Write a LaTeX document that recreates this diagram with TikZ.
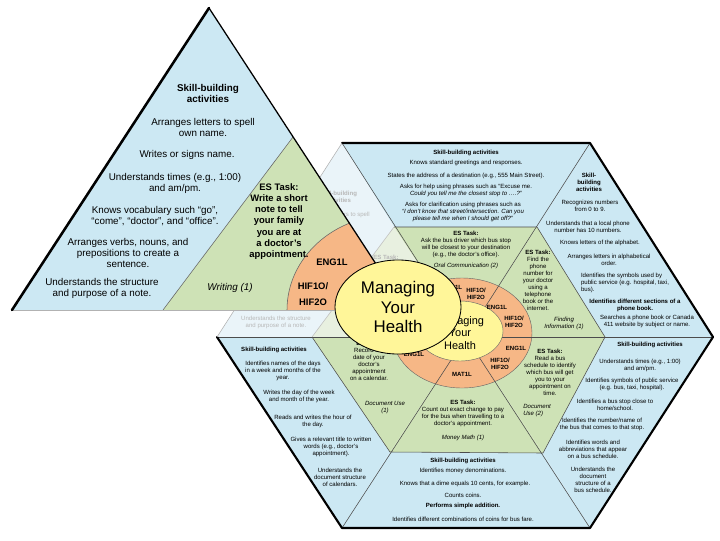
\documentclass[tikz,border=0pt]{standalone}
\usepackage{fontspec}
\setmainfont{Liberation Sans}
\usetikzlibrary{shapes.geometric}

\definecolor{skillblue}{RGB}{204,232,243}
\definecolor{taskgreen}{RGB}{206,226,182}
\definecolor{ringorange}{RGB}{246,183,134}
\definecolor{coreyellow}{RGB}{255,246,153}
\definecolor{fadeblue}{RGB}{234,244,249}
\definecolor{fadegreen}{RGB}{232,240,224}

\tikzset{
  skilltext/.style={font=\fontsize{4.3}{5.0}\selectfont, align=center, inner sep=0pt},
  skillhead/.style={skilltext, font=\fontsize{4.3}{5.0}\selectfont\bfseries},
  areatext/.style={skilltext, font=\fontsize{4.3}{5.0}\selectfont\itshape},
  fadetext/.style={skilltext, text=black!28},
  ringtext/.style={font=\fontsize{4.3}{5.0}\selectfont\bfseries, align=center, inner sep=0pt},
  bigtext/.style={font=\fontsize{7}{7.8}\selectfont, align=center, inner sep=0pt},
  bigtask/.style={font=\fontsize{6.7}{7.9}\selectfont\bfseries, align=center, inner sep=0pt},
  sectorline/.style={draw=black!70, line width=0.4pt},
  outeredge/.style={line width=1.5pt, line join=round, line cap=round},
}

\begin{document}
\begin{tikzpicture}[x=0.025cm, y=-0.025cm]
    \useasboundingbox (0,0) rectangle (720,540);

    % Points of the hexagon
    \coordinate (C) at (466,337);
    \coordinate (V0) at (713,337);
    \coordinate (V1) at (590,143);
    \coordinate (V2) at (342,143);
    \coordinate (V3) at (217,337);
    \coordinate (V4) at (342,528);
    \coordinate (V5) at (590,528);
    \coordinate (W0) at (605,337);
    \coordinate (W1) at (537,227);
    \coordinate (W2) at (394,227);
    \coordinate (W3) at (312,337);
    \coordinate (W4) at (390,452);
    \coordinate (W5) at (543,453);

    % Skill-building trapezoids
    \fill[skillblue] (V2) -- (V1) -- (W1) -- (W2) -- cycle;
    \fill[skillblue] (V1) -- (V0) -- (W0) -- (W1) -- cycle;
    \fill[skillblue] (V0) -- (V5) -- (W5) -- (W0) -- cycle;
    \fill[skillblue] (V5) -- (V4) -- (W4) -- (W5) -- cycle;
    \fill[skillblue] (V4) -- (V3) -- (W3) -- (W4) -- cycle;
    \fill[fadeblue] (V3) -- (V2) -- (W2) -- (W3) -- cycle;

    % ES task triangles
    \fill[taskgreen] (C) -- (W2) -- (W1) -- cycle;
    \fill[taskgreen] (C) -- (W1) -- (W0) -- cycle;
    \fill[taskgreen] (C) -- (W0) -- (W5) -- cycle;
    \fill[taskgreen] (C) -- (W5) -- (W4) -- cycle;
    \fill[taskgreen] (C) -- (W4) -- (W3) -- cycle;
    \fill[fadegreen] (C) -- (W3) -- (W2) -- cycle;

    % Course ring
    \filldraw[fill=ringorange, draw=black!60, line width=0.3pt] (462,333) ellipse [x radius=70, y radius=55];

    % Sector lines
    \draw[sectorline] (C) -- (V0);
    \draw[sectorline] (C) -- (V1);
    \draw[sectorline] (C) -- (V2);
    \draw[sectorline] (C) -- (V3);
    \draw[sectorline] (C) -- (V4);
    \draw[sectorline] (C) -- (V5);
    \draw[sectorline] (W2) -- (W1) -- (W0) -- (W5) -- (W4) -- (W3);
    \draw[black!25] (W3) -- (W2);

    % Hexagon outline
    \draw[outeredge] (V3) -- (V4) -- (V5) -- (V0) -- (V1) -- (V2);
    \draw[black!30] (V2) -- (V3);

    % Centre of the hexagon
    \filldraw[fill=coreyellow, draw=black!60, line width=0.3pt] (460,331) ellipse [x radius=43, y radius=30];
    \node (coreSmall) at (460,333) [font=\fontsize{7.8}{8.9}\selectfont, align=center, inner sep=0pt] {Managing\\Your\\Health};

    % Course labels in the ring
    \node (ringTopEng) at (452,287) [ringtext] {ENG1L};
    \node (ringTopHif) at (476,293.5) [ringtext] {HIF1O/\\HIF2O};
    \node (ringUrEng) at (497,307) [ringtext] {ENG1L};
    \node (ringUrHif) at (514,321.5) [ringtext] {HIF1O/\\HIF2O};
    \node (ringLrEng) at (516,348) [ringtext] {ENG1L};
    \node (ringLrHif) at (500,363.5) [ringtext] {HIF1O/\\HIF2O};
    \node (ringBtMat) at (462,374) [ringtext] {MAT1L};
    \node (ringLlEng) at (414,354) [ringtext] {ENG1L};

    % Top sector
    \node (topSkill) at (466,153) [skillhead] {Skill-building activities};
    \node (topGreet) at (466,163) [skilltext] {Knows standard greetings and responses.};
    \node (topAddress) at (466,176) [skilltext] {States the address of a destination (e.g., 555 Main Street).};
    \node (topHelp) at (466,190) [skilltext] {Asks for help using phrases such as ``Excuse me.\\\textit{Could you tell me the closest stop to ….?}''};
    \node (topClarify) at (463,212) [skilltext] {Asks for clarification using phrases such as\\\textit{``I don't know that street/intersection. Can you}\\\textit{please tell me when I should get off?''}};
    \node (topTask) at (466,244.5) [skilltext] {\textbf{ES Task:}\\Ask the bus driver which bus stop\\will be closest to your destination\\(e.g., the doctor's office).};
    \node (topOral) at (466,266) [areatext] {Oral Communication (2)};

    % Upper right sector
    \node (urSkill) at (589,182) [skillhead] {Skill-\\building\\activities};
    \node (urNumbers) at (590,206) [skilltext] {Recognizes numbers\\from 0 to 9.};
    \node (urPhone) at (588,227) [skilltext] {Understands that a local phone\\number has 10 numbers.};
    \node (urAlpha) at (600,243) [skilltext] {Knows letters of the alphabet.};
    \node (urOrder) at (609,260) [skilltext] {Arranges letters in alphabetical\\order.};
    \node (urSymbols) at (625,283) [skilltext, align=left] {Identifies the symbols used by\\public service (e.g. hospital, taxi,\\bus).};
    \node (urSections) at (635,305) [skillhead] {Identifies different sections of a\\phone book.};
    \node (urSearch) at (647,321.5) [skilltext] {Searches a phone book or Canada\\411 website by subject or name.};
    \node (urTask) at (538,280) [skilltext] {\textbf{ES Task:}\\Find the\\phone\\number for\\your doctor\\using a\\telephone\\book or the\\internet.};
    \node (urFinding) at (564,323.5) [areatext] {Finding\\Information (1)};

    % Lower right sector
    \node (lrSkill) at (650,345) [skillhead] {Skill-building activities};
    \node (lrTimes) at (640,365) [skilltext] {Understands times (e.g., 1:00)\\and am/pm.};
    \node (lrSymbols) at (632,384) [skilltext] {Identifies symbols of public service\\(e.g. bus, taxi, hospital).};
    \node (lrStop) at (615,404.5) [skilltext] {Identifies a bus stop close to\\home/school.};
    \node (lrNumber) at (602,424) [skilltext] {Identifies the number/name of\\the bus that comes to that stop.};
    \node (lrWords) at (593,449.5) [skilltext] {Identifies words and\\abbreviations that appear\\on a bus schedule.};
    \node (lrStructure) at (593,479.5) [skilltext] {Understands the\\document\\structure of a\\bus schedule.};
    \node (lrTask) at (550,372) [skilltext] {\textbf{ES Task:}\\Read a bus\\schedule to identify\\which bus will get\\you to your\\appointment on\\time.};
    \node (lrDoc) at (523,410.5) [areatext, anchor=west, align=left] {Document\\Use (2)};

    % Bottom sector
    \node (btSkill) at (463,461) [skillhead] {Skill-building activities};
    \node (btMoney) at (463,471) [skilltext] {Identifies money denominations.};
    \node (btDime) at (465,484) [skilltext] {Knows that a dime equals 10 cents, for example.};
    \node (btCoins) at (463,495) [skilltext] {Counts coins.};
    \node (btAdd) at (463,506) [skillhead] {Performs simple addition.};
    \node (btFare) at (463,519) [skilltext] {Identifies different combinations of coins for bus fare.};
    \node (btTask) at (463,413.5) [skilltext] {\textbf{ES Task:}\\Count out exact change to pay\\for the bus when travelling to a\\doctor's appointment.};
    \node (btMath) at (463,438) [areatext] {Money Math (1)};

    % Lower left sector
    \node (llSkill) at (274,350) [skillhead] {Skill-building activities};
    \node (llDays) at (283,371) [skilltext] {Identifies names of the days\\in a week and months of the\\year.};
    \node (llWrites) at (299,396.5) [skilltext] {Writes the day of the week\\and month of the year.};
    \node (llHour) at (313,421.5) [skilltext] {Reads and writes the hour of\\the day.};
    \node (llTitle) at (331,447) [skilltext] {Gives a relevant title to written\\words (e.g., doctor's\\appointment).};
    \node (llCalendar) at (340,477) [skilltext] {Understands the\\document structure\\of calendars.};
    \node (llTask) at (369,360.5) [skilltext] {\textbf{ES Task:}\\Record the\\date of your\\doctor's\\appointment\\on a calendar.};
    \node (llDoc) at (385,408) [areatext] {Document Use\\(1)};

    % Faded upper left sector
    \node (fadeSkill) at (338,197) [fadetext, font=\fontsize{4.3}{5.0}\selectfont\bfseries] {Skill-building\\activities};
    \node (fadeLetters) at (338,215) [fadetext] {Arranges letters to spell};
    \node (fadeTask) at (386,257) [fadetext, font=\fontsize{4.3}{5.0}\selectfont\bfseries] {ES Task:};
    \node (fadeNote) at (276,322) [fadetext] {Understands the structure\\and purpose of a note.};

    % Enlarged writing sector
    \coordinate (T1) at (209,8);
    \coordinate (T2) at (12,310);
    \coordinate (T3) at (406,310);
    \coordinate (G1) at (293,137);
    \coordinate (G2) at (163,310);
    \fill[skillblue] (T1) -- (T2) -- (T3) -- cycle;
    \fill[taskgreen] (G1) -- (G2) -- (T3) -- cycle;
    \begin{scope}
        \clip (T1) -- (T2) -- (T3) -- cycle;
        \filldraw[fill=ringorange, draw=black!60, line width=0.4pt] (392,310) ellipse [x radius=105, y radius=95];
    \end{scope}
    \draw[black!60] (G1) -- (G2);
    \draw[black!30] (T2) -- (T3);
    \draw[line width=0.9pt] (T1) -- (T3);
    \draw[line width=1.8pt, line cap=round] (T1) -- (T2);

    \node (bigSkill) at (208,93) [bigtext, font=\fontsize{7}{7.8}\selectfont\bfseries] {Skill-building\\activities};
    \node (bigLetters) at (203,127.5) [bigtext] {Arranges letters to spell\\own name.};
    \node (bigWrites) at (187,155) [bigtext] {Writes or signs name.};
    \node (bigTimes) at (175,183.5) [bigtext] {Understands times (e.g., 1:00)\\and am/pm.};
    \node (bigVocab) at (155,216) [bigtext] {Knows vocabulary such ``go'',\\``come'', ``doctor'', and ``office''.};
    \node (bigVerbs) at (128,253) [bigtext] {Arranges verbs, nouns, and\\prepositions to create a\\sentence.};
    \node (bigNote) at (102,288.5) [bigtext] {Understands the structure\\and purpose of a note.};
    \node (bigTask) at (279,221.5) [bigtask] {ES Task:\\Write a short\\note to tell\\your family\\you are at\\a doctor's\\appointment.};
    \node (bigWriting) at (230,288) [bigtext, font=\fontsize{7}{7.8}\selectfont\itshape] {Writing (1)};
    \node (bigEng) at (332,262) [bigtask] {ENG1L};
    \node (bigHif) at (313,294) [bigtask, font=\fontsize{6.7}{11.5}\selectfont\bfseries] {HIF1O/\\HIF2O};

    % Enlarged centre
    \node (coreBig) at (398,307) [ellipse, draw, line width=0.6pt, fill=coreyellow, minimum width=3.15cm, minimum height=2.35cm, inner sep=0pt, font=\fontsize{12}{13.8}\selectfont, align=center] {Managing\\Your\\Health};
\end{tikzpicture}
\end{document}
